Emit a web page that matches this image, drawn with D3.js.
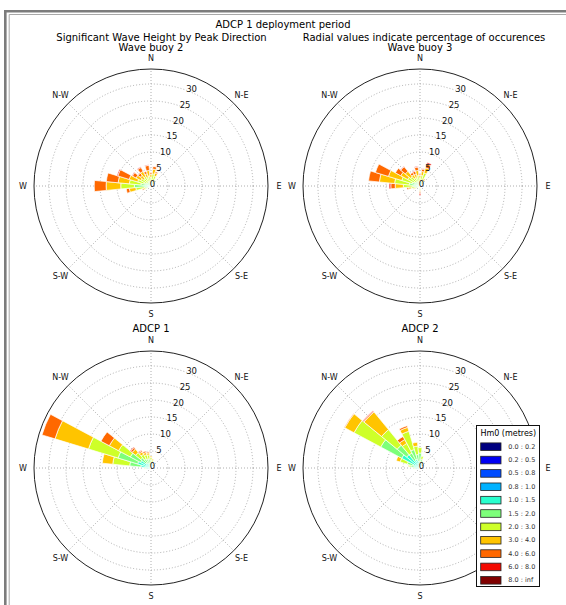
<!DOCTYPE html>
<html><head><meta charset="utf-8">
<script src="https://cdn.jsdelivr.net/npm/d3@7"></script>
<style>body{margin:0;background:#fff}svg{display:block}text{font-family:"DejaVu Sans",sans-serif}</style>
</head><body><svg id="c" width="566" height="605"></svg>
<script>
// ---------- DATA ----------
const binLabels = ["0.0 : 0.2","0.2 : 0.5","0.5 : 0.8","0.8 : 1.0","1.0 : 1.5","1.5 : 2.0","2.0 : 3.0","3.0 : 4.0","4.0 : 6.0","6.0 : 8.0","8.0 : inf"];
const binColors = ["#000080","#0000f3","#004cff","#00b2ff","#29ffce","#7dff7a","#ceff29","#ffc400","#ff6800","#f30900","#800000"];
const radialTicks = [0,5,10,15,20,25,30];
const compassLabels = ["N","N-E","E","S-E","S","S-W","W","N-W"];
const compassAngles = [0,45,90,135,180,225,270,315];

const buoy2Dirs = [247.5,258.75,270,281.25,292.5,303.75,315,326.25,337.5,348.75,0,11.25,22.5,33.75];
const buoy2Freq = [
 [0,0,0,0.1,0.3,0.6,0.8,0.5,0.4,0,0],
 [0,0,0,0.1,0.5,1.4,2.5,1.9,0.9,0,0],
 [0,0,0.1,0.2,1.0,3.6,4.0,4.3,3.5,0,0],
 [0,0,0,0.2,0.8,2.0,3.4,3.3,3.5,0,0],
 [0,0,0,0.1,0.6,1.4,2.0,2.6,3.5,0.3,0],
 [0,0,0,0.1,0.4,1.1,1.8,1.6,1.2,0.2,0],
 [0,0,0,0.1,0.3,0.9,1.5,1.3,0.8,0,0],
 [0,0,0,0.1,0.3,1.0,1.8,1.7,1.3,0.2,0],
 [0,0,0,0.1,0.3,0.8,1.4,1.2,0.7,0,0],
 [0,0,0,0.1,0.3,0.9,1.7,1.6,1.5,0.2,0],
 [0,0,0,0.1,0.3,0.8,1.3,1.0,0.5,0,0],
 [0,0,0,0.1,0.3,1.0,2.2,1.4,0.8,0.1,0],
 [0,0,0,0.1,0.3,0.9,1.8,0.9,0.4,0,0],
 [0,0,0,0.1,0.2,0.5,0.8,0.3,0,0,0]
];

const buoy3Dirs = [180,247.5,258.75,270,281.25,292.5,303.75,315,326.25,337.5,348.75,0,11.25,22.5,33.75];
const buoy3Freq = [
 [0,0,0,0,0.2,0.4,0.6,0.5,0.6,0.5,0],
 [0,0,0,0.1,0.2,0.5,0.7,0.4,0.2,0,0],
 [0,0,0,0.1,0.4,0.9,1.2,0.8,0.5,0,0],
 [0,0,0,0.1,0.5,1.5,2.8,2.4,1.3,0.5,0],
 [0,0,0,0.2,0.8,2.2,4.3,4.5,3.2,0,0],
 [0,0,0,0.1,0.6,1.8,3.1,4.1,4.0,0,0],
 [0,0,0,0.1,0.5,1.3,2.2,2.3,1.8,0,0],
 [0,0,0,0.1,0.4,1.1,2.0,2.0,1.7,0.2,0],
 [0,0,0,0.1,0.3,0.8,1.5,1.1,0.7,0,0],
 [0,0,0,0.1,0.3,0.8,1.4,1.1,0.9,0.2,0],
 [0,0,0,0.1,0.3,0.9,1.8,1.5,1.0,0.2,0],
 [0,0,0,0.1,0.3,0.7,1.2,0.8,0.4,0,0],
 [0,0,0,0.1,0.3,0.9,1.8,1.2,0.7,0.2,0],
 [0,0,0,0.1,0.3,1.0,2.6,1.6,1.2,0.4,0],
 [0,0,0,0.1,0.2,0.5,0.9,0.5,0.2,0,0]
];

const adcp1Dirs = [270,281.25,292.5,303.75,315,326.25,337.5,348.75,0,11.25,22.5];
const adcp1Freq = [
 [0,0,0.1,0.3,0.8,0.6,0.2,0,0,0,0],
 [0,0,0.1,0.4,2.5,3.3,5.0,3.1,0,0,0],
 [0,0,0.1,0.5,3.5,6.0,9.1,10.3,4.0,0,0],
 [0,0,0.1,0.4,3.0,3.4,3.9,3.1,2.8,0,0],
 [0,0,0.1,0.3,1.5,2.0,2.0,1.3,0.6,0.2,0],
 [0,0,0.1,0.3,1.2,1.5,1.5,0.8,0.4,0.2,0],
 [0,0,0.1,0.3,1.0,1.4,1.3,0.7,0.4,0,0],
 [0,0,0.1,0.3,1.0,1.3,1.2,0.6,0.3,0,0],
 [0,0,0.1,0.3,0.9,1.0,0.8,0.4,0,0,0],
 [0,0,0.1,0.2,0.7,0.8,0.6,0.3,0,0,0],
 [0,0,0,0.2,0.5,0.5,0.3,0,0,0,0]
];

const adcp2Dirs = [270,281.25,292.5,303.75,315,326.25,337.5,348.75,0,11.25,22.5];
const adcp2Freq = [
 [0,0,0.1,0.3,0.8,0.5,0.2,0,0,0,0],
 [0,0,0.1,0.4,1.2,1.0,0.6,0.2,0,0,0],
 [0,0,0.1,0.4,1.6,1.8,2.2,1.2,0,0,0],
 [0,0,0.1,0.5,5.5,7.0,8.9,3.1,0.2,0,0],
 [0,0,0.1,0.5,4.5,3.6,5.9,6.7,0.3,0.2,0],
 [0,0,0.1,0.4,2.0,2.5,3.2,1.3,1.0,0,0],
 [0,0,0.1,0.4,2.2,3.0,5.6,1.2,0.5,0,0],
 [0,0,0.1,0.3,1.6,2.0,2.5,1.1,0,0,0],
 [0,0,0.1,0.3,1.5,2.5,1.6,0,0,0,0],
 [0,0,0.1,0.2,1.0,1.2,1.0,0,0,0,0],
 [0,0,0,0.1,0.6,0.8,0.5,0,0,0,0]
];

const sectorWidth = 11.25;
const rMax = 34.4;

// ---------- LAYOUT ----------
const svg = d3.select("#c");
const R = 117;
const rScale = d3.scaleLinear().domain([0, rMax]).range([0, R]);
const rad = d => d * Math.PI / 180;
const legendBox = {x:476.5, y:425.5, w:63, h:161};

// frame
svg.append("path").attr("d","M5.3,700 V11.2 H700").attr("fill","none").attr("stroke","#7c7c7c").attr("stroke-width",2.6);
svg.append("path").attr("d","M9.2,700 V14.5 H700").attr("fill","none").attr("stroke","#a8a8a8").attr("stroke-width",1);

// titles
const tt = (x,y,s,fs) => svg.append("text").attr("x",x).attr("y",y).attr("text-anchor","middle")
  .attr("dominant-baseline","central").attr("font-size",fs).attr("fill","#000").text(s);
tt(283,24,"ADCP 1 deployment period",10);
tt(161.5,37,"Significant Wave Height by Peak Direction",10);
tt(424,37,"Radial values indicate percentage of occurences",10);

const plots = [
 {title:"Wave buoy 2", cx:151, cy:186, ty:47, dirs:buoy2Dirs, freq:buoy2Freq},
 {title:"Wave buoy 3", cx:420, cy:186, ty:47, dirs:buoy3Dirs, freq:buoy3Freq},
 {title:"ADCP 1", cx:151, cy:468, ty:328, dirs:adcp1Dirs, freq:adcp1Freq},
 {title:"ADCP 2", cx:420, cy:468, ty:328, dirs:adcp2Dirs, freq:adcp2Freq}
];

const arc = d3.arc();

plots.forEach(p => {
  tt(p.cx, p.ty, p.title, 10);
  const g = svg.append("g").attr("transform",`translate(${p.cx},${p.cy})`);
  g.selectAll("circle.grid").data(radialTicks.filter(v=>v>0)).join("circle")
    .attr("r", d=>rScale(d)).attr("fill","none").attr("stroke","#9a9a9a")
    .attr("stroke-width",0.8).attr("stroke-dasharray","1,2");
  g.selectAll("line.spoke").data(compassAngles).join("line")
    .attr("x1",0).attr("y1",0)
    .attr("x2",d=>R*Math.sin(rad(d))).attr("y2",d=>-R*Math.cos(rad(d)))
    .attr("stroke","#9a9a9a").attr("stroke-width",0.8).attr("stroke-dasharray","1,2");
  p.dirs.forEach((dir,i) => {
    let cum = 0;
    p.freq[i].forEach((v,b) => {
      if (v <= 0) return;
      const r0 = cum, r1 = cum + v; cum = r1;
      g.append("path").attr("d", arc({
        innerRadius: rScale(r0), outerRadius: rScale(r1),
        startAngle: rad(dir - sectorWidth/2), endAngle: rad(dir + sectorWidth/2)
      })).attr("fill", binColors[b]).attr("stroke","#fff").attr("stroke-width",0.7);
    });
  });
  g.append("circle").attr("r",R).attr("fill","none").attr("stroke","#222").attr("stroke-width",1);
  // compass labels (skip any hidden beneath the legend box)
  const cmp = compassLabels.map((t,i)=>({t, x:128*Math.sin(rad(compassAngles[i])), y:-128*Math.cos(rad(compassAngles[i]))}))
    .filter(d => { const ax=p.cx+d.x, ay=p.cy+d.y;
      return !(ax>legendBox.x-4 && ax<legendBox.x+legendBox.w+4 && ay>legendBox.y && ay<legendBox.y+legendBox.h); });
  g.selectAll("text.cmp").data(cmp).join("text")
    .attr("x",d=>d.x).attr("y",d=>d.y)
    .attr("text-anchor","middle").attr("dominant-baseline","central")
    .attr("font-size",8).attr("fill","#111").text(d=>d.t);
  g.selectAll("text.rl").data(radialTicks).join("text")
    .attr("x",d=>rScale(d)*Math.sin(rad(22.5))+1.5)
    .attr("y",d=>-rScale(d)*Math.cos(rad(22.5))-2.5)
    .attr("text-anchor","middle").attr("dominant-baseline","central")
    .attr("font-size",8.5).attr("fill","#111").text(d=>d);
});

// legend
const lg = svg.append("g");
lg.append("rect").attr("x",legendBox.x).attr("y",legendBox.y).attr("width",legendBox.w).attr("height",legendBox.h)
  .attr("fill","#fff").attr("stroke","#111").attr("stroke-width",1);
lg.append("text").attr("x",508.3).attr("y",433.5).attr("text-anchor","middle")
  .attr("dominant-baseline","central").attr("font-size",8).attr("fill","#000").text("Hm0 (metres)");
binLabels.forEach((l,i) => {
  const y = 446.7 + i*13.36;
  lg.append("rect").attr("x",480.7).attr("y",y-3.8).attr("width",20.3).attr("height",7.6)
    .attr("fill",binColors[i]).attr("stroke","#222").attr("stroke-width",0.8);
  lg.append("text").attr("x",508.3).attr("y",y).attr("dominant-baseline","central")
    .attr("font-size",6.5).attr("fill","#333").text(l);
});
</script></body></html>
